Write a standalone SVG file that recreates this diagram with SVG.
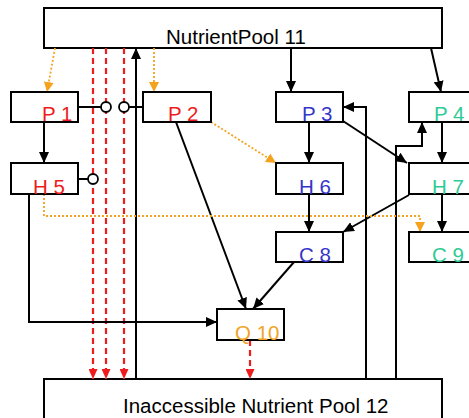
<svg xmlns="http://www.w3.org/2000/svg" width="469" height="418" viewBox="0 0 469 418">
  <style>
    .box { fill: #ffffff; stroke: #000000; stroke-width: 2; }
    .lbl { font-family: "Liberation Sans", Arial, sans-serif; font-size: 20.5px; }
    .pool { font-family: "Liberation Sans", Arial, sans-serif; font-size: 20.5px; fill: #000000; }
    .red { fill: #ee1c1c; }
    .blue { fill: #3535c8; }
    .green { fill: #2ecb95; }
    .orange { fill: #f0a424; }
    .flow { fill: none; stroke: #000000; stroke-width: 2; }
    .flowA { fill: none; stroke: #000000; stroke-width: 2; marker-end: url(#arrowK); }
    .loss { fill: none; stroke: #ee1c1c; stroke-width: 2.2; stroke-dasharray: 6 4; marker-end: url(#arrowR); }
    .info { fill: none; stroke: #f5a21f; stroke-width: 1.8; stroke-dasharray: 2 2; marker-end: url(#arrowO); }
    .knob { fill: #ffffff; stroke: #000000; stroke-width: 1.8; }
  </style>
  <defs>
    <marker id="arrowK" markerUnits="userSpaceOnUse" markerWidth="11" markerHeight="10" refX="11" refY="5" orient="auto">
      <path d="M0,0 L11,5 L0,10 z" fill="#000000"/>
    </marker>
    <marker id="arrowR" markerUnits="userSpaceOnUse" markerWidth="10" markerHeight="9" refX="10" refY="4.5" orient="auto">
      <path d="M0,0 L10,4.5 L0,9 z" fill="#ee1c1c"/>
    </marker>
    <marker id="arrowO" markerUnits="userSpaceOnUse" markerWidth="10" markerHeight="10" refX="10" refY="5" orient="auto">
      <path d="M0,0 L10,5 L0,10 z" fill="#f5a21f"/>
    </marker>
  </defs>

  <rect width="469" height="418" fill="#ffffff"/>

  <!-- pools -->
  <g id="pool11">
    <rect class="box" x="44" y="8" width="398" height="40"/>
    <text class="pool" x="166" y="44">NutrientPool 11</text>
  </g>
  <g id="pool12">
    <rect class="box" x="44" y="379" width="398" height="50"/>
    <text class="pool" x="123" y="413">Inaccessible Nutrient Pool 12</text>
  </g>

  <!-- connectors -->
  <g id="connectors">
    <!-- losses to the inaccessible pool -->
    <line class="loss" x1="93" y1="48" x2="93" y2="379"/>
    <line class="loss" x1="106" y1="48" x2="106" y2="379"/>
    <line class="loss" x1="124" y1="48" x2="124" y2="379"/>
    <line class="loss" x1="250" y1="340" x2="250" y2="379"/>

    <!-- return flows from the inaccessible pool -->
    <line class="flowA" x1="136" y1="379" x2="136" y2="48"/>
    <polyline class="flowA" points="366,379 366,107 343,107"/>
    <polyline class="flowA" points="396,379 396,146 422,146 422,122"/>

    <!-- uptake from pool 11 -->
    <line class="flowA" x1="291" y1="48" x2="291" y2="92"/>
    <line class="flowA" x1="431" y1="48" x2="441" y2="92"/>
    <line class="info" x1="55" y1="48" x2="47" y2="92"/>
    <line class="info" x1="154" y1="48" x2="154" y2="92"/>

    <!-- trophic flows -->
    <line class="flowA" x1="44" y1="122" x2="44" y2="163"/>
    <line class="flowA" x1="309" y1="122" x2="309" y2="163"/>
    <line class="flowA" x1="309" y1="194" x2="309" y2="232"/>
    <line class="flowA" x1="442" y1="122" x2="442" y2="163"/>
    <line class="flowA" x1="442" y1="194" x2="442" y2="232"/>
    <line class="flowA" x1="343" y1="121" x2="407" y2="163"/>
    <line class="flowA" x1="409" y1="195" x2="343" y2="232"/>
    <line class="flowA" x1="176" y1="122" x2="246" y2="309"/>
    <line class="flowA" x1="294" y1="262" x2="253" y2="309"/>
    <polyline class="flowA" points="29,194 29,322 217,322"/>

    <!-- dotted influences -->
    <line class="info" x1="211" y1="122" x2="276" y2="163"/>
    <polyline class="info" points="44,194 44,216 420,216 420,232"/>

    <!-- interaction knobs -->
    <line class="flow" x1="78" y1="107" x2="101" y2="107"/>
    <line class="flow" x1="129" y1="107" x2="143" y2="107"/>
    <line class="flow" x1="78" y1="179" x2="88" y2="179"/>
    <circle class="knob" cx="106" cy="107" r="5"/>
    <circle class="knob" cx="124" cy="107" r="5"/>
    <circle class="knob" cx="93" cy="179" r="5"/>
  </g>

  <!-- compartments -->
  <g id="P1">
    <rect class="box" x="11" y="92" width="67" height="30"/>
    <text class="lbl red" x="42" y="121">P 1</text>
  </g>
  <g id="P2">
    <rect class="box" x="143" y="92" width="68" height="30"/>
    <text class="lbl red" x="168" y="121">P 2</text>
  </g>
  <g id="P3">
    <rect class="box" x="276" y="92" width="67" height="30"/>
    <text class="lbl blue" x="302" y="121">P 3</text>
  </g>
  <g id="P4">
    <rect class="box" x="409" y="92" width="70" height="30"/>
    <text class="lbl green" x="434" y="121">P 4</text>
  </g>
  <g id="H5">
    <rect class="box" x="11" y="163" width="67" height="31"/>
    <text class="lbl red" x="33" y="194">H 5</text>
  </g>
  <g id="H6">
    <rect class="box" x="276" y="163" width="67" height="31"/>
    <text class="lbl blue" x="299" y="194">H 6</text>
  </g>
  <g id="H7">
    <rect class="box" x="409" y="163" width="70" height="31"/>
    <text class="lbl green" x="432" y="194">H 7</text>
  </g>
  <g id="C8">
    <rect class="box" x="276" y="232" width="67" height="30"/>
    <text class="lbl blue" x="299" y="262">C 8</text>
  </g>
  <g id="C9">
    <rect class="box" x="409" y="232" width="70" height="30"/>
    <text class="lbl green" x="432" y="262">C 9</text>
  </g>
  <g id="Q10">
    <rect class="box" x="217" y="309" width="67" height="31"/>
    <text class="lbl orange" x="235" y="340">Q 10</text>
  </g>
</svg>
